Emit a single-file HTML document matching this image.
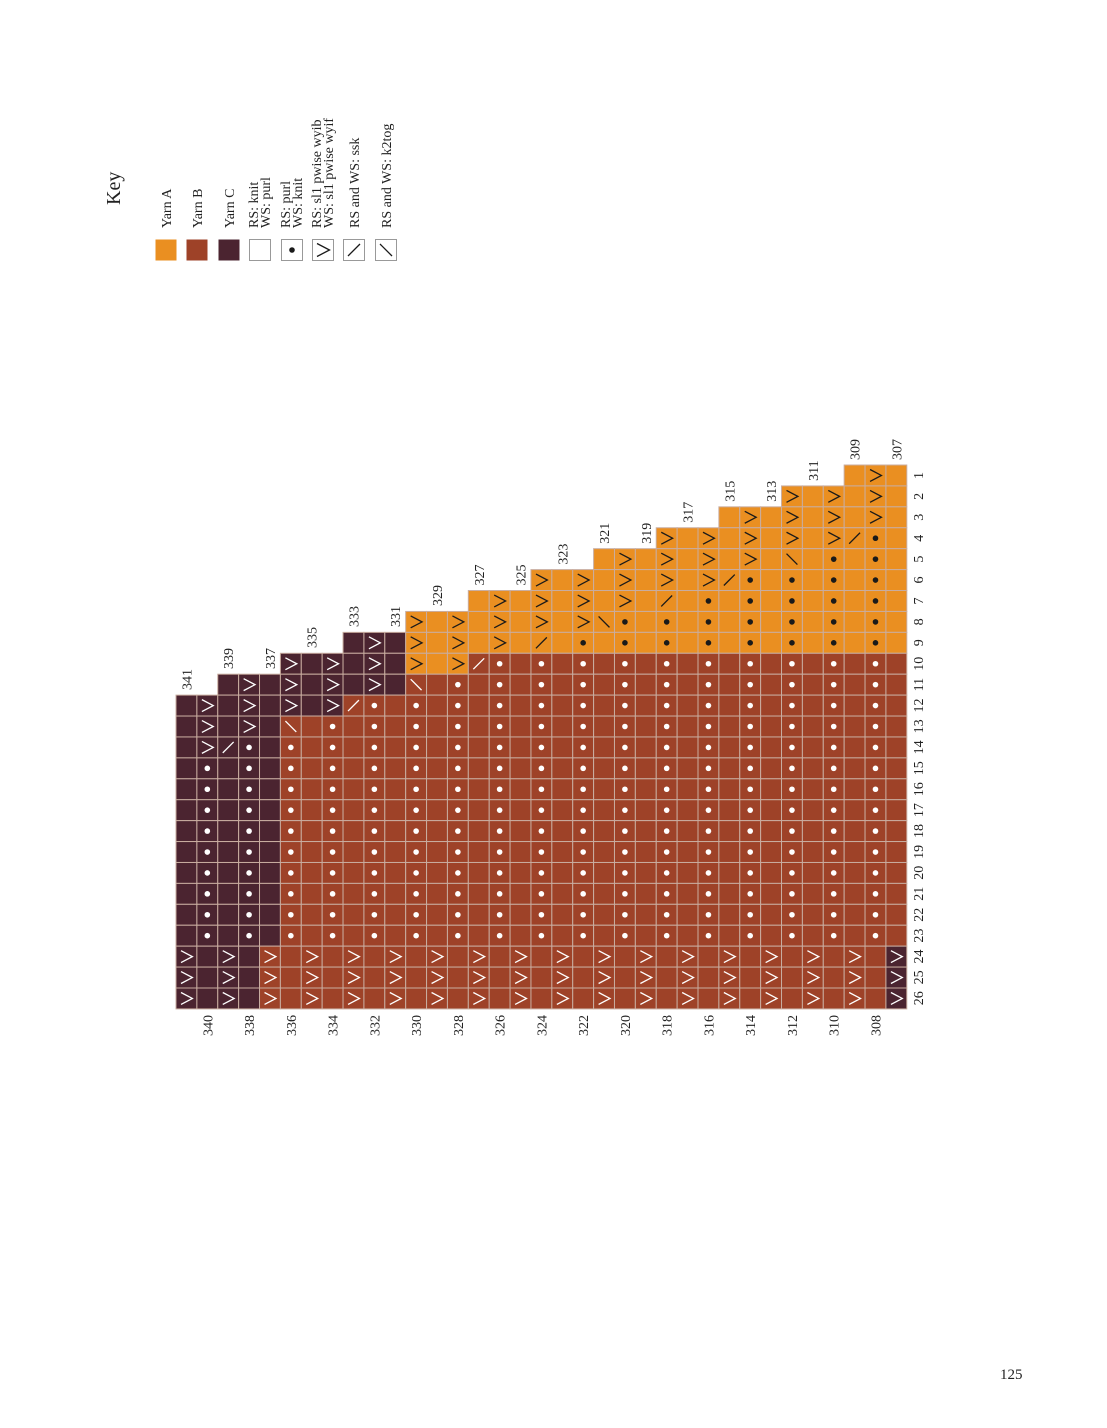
<!DOCTYPE html>
<html><head><meta charset="utf-8"><style>
html,body{margin:0;padding:0;background:#fff;}
svg{display:block;}
text{font-family:"Liberation Serif",serif;fill:#222;}
</style></head><body>
<svg id="s" width="1107" height="1428" viewBox="0 0 1107 1428" xmlns="http://www.w3.org/2000/svg">
<g id="grid"></g>
<g font-size="14">
<text transform="translate(120,205) rotate(-90)" font-size="20">Key</text>
<text transform="translate(171,228) rotate(-90)">Yarn A</text>
<text transform="translate(202,228) rotate(-90)">Yarn B</text>
<text transform="translate(234,228) rotate(-90)">Yarn C</text>
<text transform="translate(258,228) rotate(-90)">RS: knit</text>
<text transform="translate(270,228) rotate(-90)">WS: purl</text>
<text transform="translate(290,228) rotate(-90)">RS: purl</text>
<text transform="translate(302,228) rotate(-90)">WS: knit</text>
<text transform="translate(321,228) rotate(-90)">RS: sl1 pwise wyib</text>
<text transform="translate(333,228) rotate(-90)">WS: sl1 pwise wyif</text>
<text transform="translate(359,228) rotate(-90)">RS and WS: ssk</text>
<text transform="translate(391,228) rotate(-90)">RS and WS: k2tog</text>
</g>
<g font-size="14">
<text transform="translate(191.4,690) rotate(-90)">341</text>
<text transform="translate(233.2,669) rotate(-90)">339</text>
<text transform="translate(274.9,669) rotate(-90)">337</text>
<text transform="translate(316.7,648) rotate(-90)">335</text>
<text transform="translate(358.5,627) rotate(-90)">333</text>
<text transform="translate(400.2,627) rotate(-90)">331</text>
<text transform="translate(442,606) rotate(-90)">329</text>
<text transform="translate(483.8,585.5) rotate(-90)">327</text>
<text transform="translate(525.5,585.5) rotate(-90)">325</text>
<text transform="translate(567.3,564.6) rotate(-90)">323</text>
<text transform="translate(609,543.7) rotate(-90)">321</text>
<text transform="translate(650.8,543.7) rotate(-90)">319</text>
<text transform="translate(692.6,522.8) rotate(-90)">317</text>
<text transform="translate(734.3,501.8) rotate(-90)">315</text>
<text transform="translate(776.1,501.8) rotate(-90)">313</text>
<text transform="translate(817.8,480.9) rotate(-90)">311</text>
<text transform="translate(859.6,460) rotate(-90)">309</text>
<text transform="translate(901.4,460) rotate(-90)">307</text>
</g>
<g font-size="14" text-anchor="end">
<text transform="translate(212.3,1015) rotate(-90)">340</text>
<text transform="translate(254.1,1015) rotate(-90)">338</text>
<text transform="translate(295.8,1015) rotate(-90)">336</text>
<text transform="translate(337.6,1015) rotate(-90)">334</text>
<text transform="translate(379.4,1015) rotate(-90)">332</text>
<text transform="translate(421.1,1015) rotate(-90)">330</text>
<text transform="translate(462.9,1015) rotate(-90)">328</text>
<text transform="translate(504.6,1015) rotate(-90)">326</text>
<text transform="translate(546.4,1015) rotate(-90)">324</text>
<text transform="translate(588.2,1015) rotate(-90)">322</text>
<text transform="translate(629.9,1015) rotate(-90)">320</text>
<text transform="translate(671.7,1015) rotate(-90)">318</text>
<text transform="translate(713.4,1015) rotate(-90)">316</text>
<text transform="translate(755.2,1015) rotate(-90)">314</text>
<text transform="translate(797,1015) rotate(-90)">312</text>
<text transform="translate(838.7,1015) rotate(-90)">310</text>
<text transform="translate(880.5,1015) rotate(-90)">308</text>
</g>
<g font-size="14" text-anchor="middle">
<text transform="translate(923,475.5) rotate(-90)">1</text>
<text transform="translate(923,496.4) rotate(-90)">2</text>
<text transform="translate(923,517.3) rotate(-90)">3</text>
<text transform="translate(923,538.2) rotate(-90)">4</text>
<text transform="translate(923,559.1) rotate(-90)">5</text>
<text transform="translate(923,580) rotate(-90)">6</text>
<text transform="translate(923,601) rotate(-90)">7</text>
<text transform="translate(923,621.9) rotate(-90)">8</text>
<text transform="translate(923,642.8) rotate(-90)">9</text>
<text transform="translate(923,663.7) rotate(-90)">10</text>
<text transform="translate(923,684.6) rotate(-90)">11</text>
<text transform="translate(923,705.5) rotate(-90)">12</text>
<text transform="translate(923,726.4) rotate(-90)">13</text>
<text transform="translate(923,747.4) rotate(-90)">14</text>
<text transform="translate(923,768.3) rotate(-90)">15</text>
<text transform="translate(923,789.2) rotate(-90)">16</text>
<text transform="translate(923,810.1) rotate(-90)">17</text>
<text transform="translate(923,831) rotate(-90)">18</text>
<text transform="translate(923,851.9) rotate(-90)">19</text>
<text transform="translate(923,872.8) rotate(-90)">20</text>
<text transform="translate(923,893.7) rotate(-90)">21</text>
<text transform="translate(923,914.7) rotate(-90)">22</text>
<text transform="translate(923,935.6) rotate(-90)">23</text>
<text transform="translate(923,956.5) rotate(-90)">24</text>
<text transform="translate(923,977.4) rotate(-90)">25</text>
<text transform="translate(923,998.3) rotate(-90)">26</text>
</g>
<text x="1000" y="1379" font-size="15">125</text>
</svg>
<script>
(function(){
var NS="http://www.w3.org/2000/svg",g=document.getElementById("grid");
var OR="#EA8F21",RU="#9E4228",DK="#4B2430",GL="#c9ada0";
var X0=176,CW=20.88,Y0=465,RH=20.92;
function el(n,a){var e=document.createElementNS(NS,n);for(var k in a)e.setAttribute(k,a[k]);g.appendChild(e);return e;}
function sym(t,x,y,w,h,col){
 if(t=="V")el("polyline",{points:(x+5)+","+(y+4.5)+" "+(x+w-4.5)+","+(y+h/2)+" "+(x+5)+","+(y+h-4.5),fill:"none",stroke:col,"stroke-width":1.3});
 else if(t=="o")el("circle",{cx:x+w/2,cy:y+h/2,r:2.8,fill:col});
 else if(t=="/")el("line",{x1:x+5,y1:y+h-5,x2:x+w-5,y2:y+5,stroke:col,"stroke-width":1.3});
 else if(t=="\\")el("line",{x1:x+5,y1:y+5,x2:x+w-5,y2:y+h-5,stroke:col,"stroke-width":1.3});
}
var dec={2:"/",5:"\\",8:"/",11:"\\",14:"/",17:"/",20:"\\",23:"/",26:"/",29:"\\",32:"/"};
for(var c=0;c<35;c++){
 var st=12-Math.floor((c+1)/3);
 var dr=Math.floor((32-c)/3)+4; var hasDec=((32-c)%3==0);
 for(var r=st;r<=26;r++){
  var bg=RU;
  if(r>=24){bg=(c<=3||c==34)?DK:RU;}
  else if(c<=4) bg=DK;
  else if(c<=7) bg=(r<=12)?DK:RU;
  else if(c<=10) bg=(r<=11)?DK:RU;
  else if(c<=13) bg=(r<=10)?OR:RU;
  else bg=(r<=9)?OR:RU;
  var x=X0+c*CW,y=Y0+(r-1)*RH;
  el("rect",{x:x,y:y,width:CW,height:RH,fill:bg,stroke:GL,"stroke-width":1});
  var col=(bg==OR)?"#1a1a1a":"#fff";
  var s=null;
  if(r>=24){ if(c%2==0)s="V"; }
  else if(hasDec&&r==dr) s=dec[c];
  else if(c%2==1){ if(r<st+3)s="V"; else s="o"; }
  if(s)sym(s,x,y,CW,RH,col);
 }
}
// key swatches
var kx=[155,186,218,249,281,312,343,375],kc=[OR,RU,DK,"#fff","#fff","#fff","#fff","#fff"],ks=[0,0,0,0,"o","V","/","\\"];
for(var i=0;i<8;i++){el("rect",{x:kx[i]+0.5,y:239.5,width:21,height:21,fill:kc[i],stroke:i<3?"none":"#999","stroke-width":1});if(ks[i])sym(ks[i],kx[i],239,22,22,"#1a1a1a");}
})();
</script>
</body></html>
